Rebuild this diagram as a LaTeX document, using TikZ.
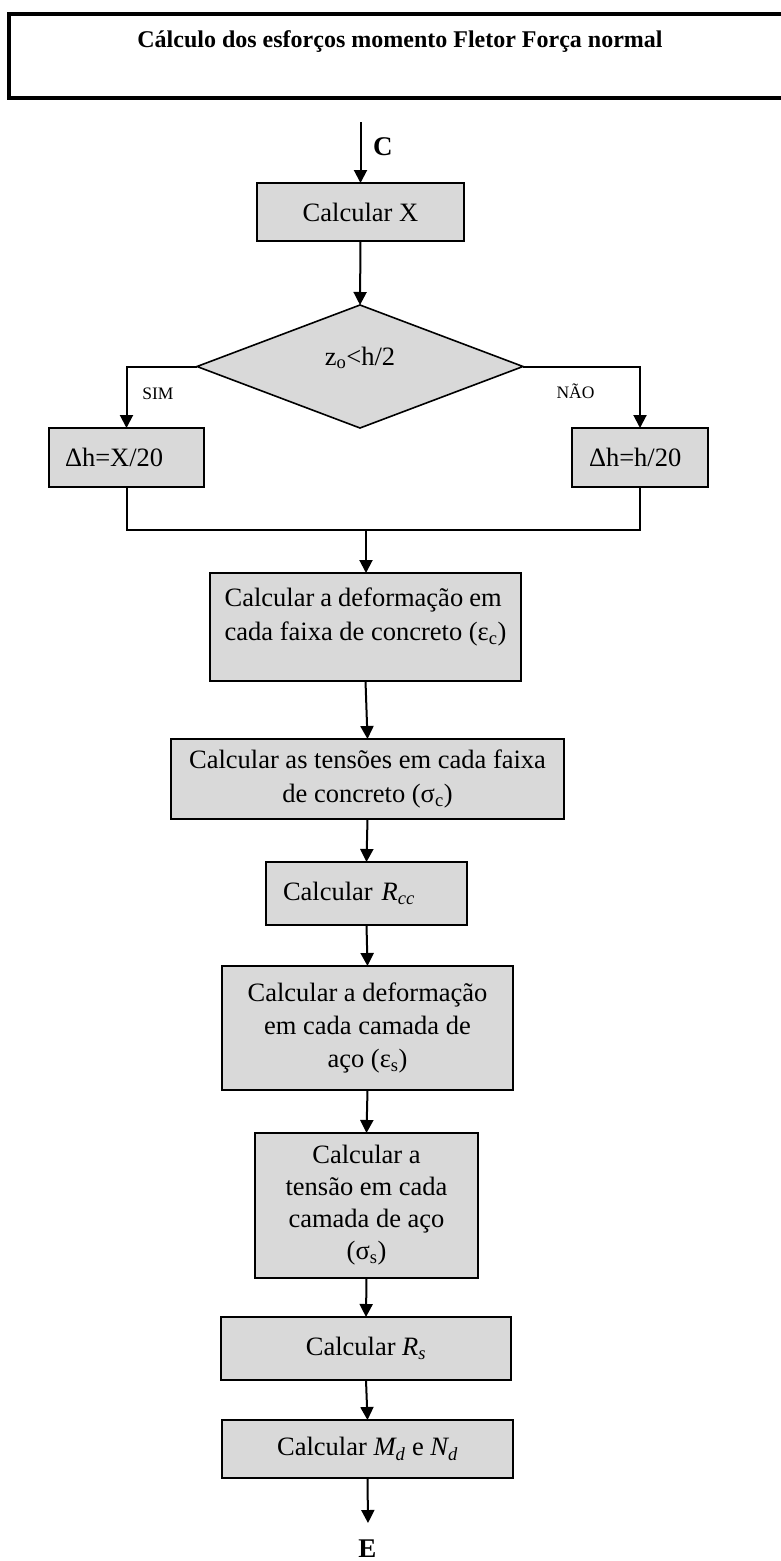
\documentclass[tikz,border=0pt]{standalone}
\usepackage{fontspec}
\setmainfont{Liberation Serif}
\usepackage{tikz}
\usetikzlibrary{shapes.geometric,arrows.meta}

\begin{document}
\begin{tikzpicture}[x=1pt,y=-1pt,>={Triangle[length=13pt,width=13pt]},line width=2pt]
			\useasboundingbox (0,0) rectangle (781,1561);
			%样式
			\tikzset{
				caixa/.style={draw,fill=black!15,line width=1.6pt,inner sep=0pt,outer sep=0pt,
					font=\fontsize{26.5}{34}\selectfont},
				rotulo/.style={inner sep=0pt,font=\fontsize{17.5}{20}\selectfont},
				letra/.style={inner sep=0pt,font=\bfseries\fontsize{27}{32}\selectfont},
			}
			%标题框
			\node[caixa,fill=none,line width=3.5pt,anchor=north west,minimum width=782pt,minimum height=84pt,
				align=center,font=\bfseries\fontsize{24}{34}\selectfont] (titulo) at (9,14)
				{Cálculo dos esforços momento Fletor Força normal\\~};
			%入口 C
			\coordinate (inicioC) at (360.5,122);
			\node[letra,anchor=base west] (rotC) at (372,155) {C};
			\node[caixa,minimum width=207pt,minimum height=58pt] (calcx) at (360.5,212) {Calcular X};
			%判断
			\node[caixa,diamond,aspect=2.65,minimum width=326pt,minimum height=123pt,
				text height=16pt,text depth=19pt] (decisao) at (360,366.5) {z\textsubscript{o}<h/2};
			\node[caixa,minimum width=155pt,minimum height=59pt,text width=123pt,align=left] (simbox) at (126.5,457.5) {Δh=X/20};
			\node[caixa,minimum width=136pt,minimum height=59pt,text width=102pt,align=left] (naobox) at (640,457.5) {Δh=h/20};
			\node[rotulo] (sim) at (158,394) {SIM};
			\node[rotulo] (nao) at (575.5,391) {NÃO};
			\coordinate (juncao) at (366,530);
			%计算步骤
			\node[caixa,minimum width=311pt,minimum height=108pt,align=left] (defc) at (365.5,627)
				{\makebox[277pt][s]{Calcular a deformação em}\\cada faixa de concreto (ε\textsubscript{c})\\[-8pt]~};
			\node[caixa,minimum width=393pt,minimum height=80pt,align=center] (tensc) at (367.5,779)
				{Calcular as tensões em cada faixa\\de concreto (σ\textsubscript{c})};
			\node[caixa,minimum width=201pt,minimum height=63pt,text width=167pt,align=left] (rcc) at (366.5,893.5)
				{Calcular \textit{R\textsubscript{cc}}};
			\node[caixa,minimum width=291pt,minimum height=124pt,align=center,font=\fontsize{26.5}{33}\selectfont] (defs) at (367.5,1028)
				{Calcular a deformação\\em cada camada de\\aço (ε\textsubscript{s})};
			\node[caixa,minimum width=223pt,minimum height=145pt,align=center,font=\fontsize{26.5}{32}\selectfont] (tenss) at (366.5,1205.5)
				{Calcular a\\tensão em cada\\camada de aço\\(σ\textsubscript{s})};
			\node[caixa,minimum width=290pt,minimum height=63pt] (rs) at (366,1348.5) {Calcular \textit{R\textsubscript{s}}};
			\node[caixa,minimum width=291pt,minimum height=58pt] (mdnd) at (367.5,1449)
				{Calcular \textit{M\textsubscript{d}} e \textit{N\textsubscript{d}}};
			%出口 E
			\coordinate (fimE) at (368,1523);
			\node[letra,anchor=base] (rotE) at (367.5,1557) {E};
			%连线
			\draw[->] (inicioC) -- (calcx.north);
			\draw[->] (calcx.south) -- (decisao.north);
			\draw[->] (decisao.west) -| (simbox.north);
			\draw[->] (decisao.east) -| (naobox.north);
			\draw (simbox.south) |- (juncao) -| (naobox.south);
			\draw[->] (juncao) -- (juncao |- defc.north);
			\draw[->] (defc.south) -- (tensc.north);
			\draw[->] (tensc.south) -- (rcc.north);
			\draw[->] (rcc.south) -- (defs.north);
			\draw[->] (defs.south) -- (tenss.north);
			\draw[->] (tenss.south) -- (rs.north);
			\draw[->] (rs.south) -- (mdnd.south |- mdnd.north);
			\draw[->] (mdnd.south) -- (fimE);
		\end{tikzpicture}
\end{document}
